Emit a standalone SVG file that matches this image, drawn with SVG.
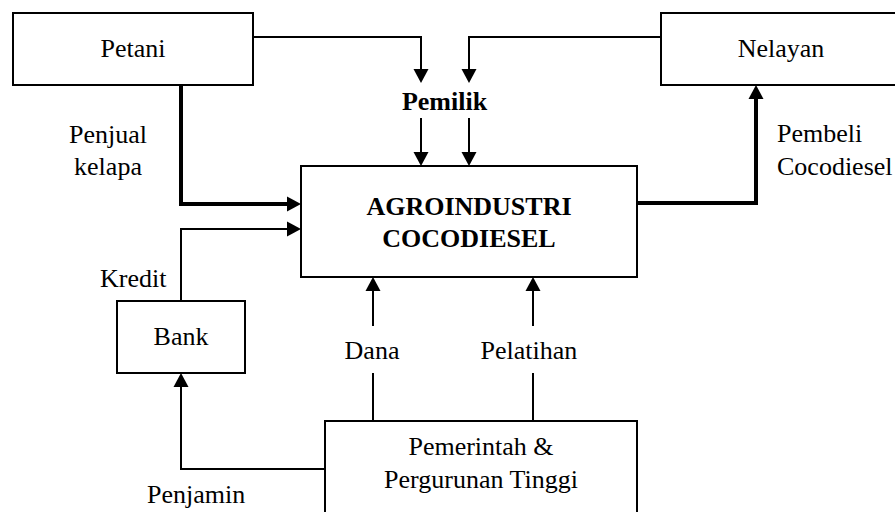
<svg xmlns="http://www.w3.org/2000/svg" width="895" height="512" viewBox="0 0 895 512">
<style>
.box{fill:#fff;stroke:#000;stroke-width:2}
.t{font-family:"Liberation Serif","Times New Roman",serif;font-size:26px;fill:#000;text-anchor:middle}
.s{text-anchor:start}
.b{font-weight:bold}
.c{fill:none;stroke:#000;stroke-width:2;stroke-linejoin:miter}
.k{stroke-width:4}
</style>
<defs>
<marker id="ah" markerUnits="userSpaceOnUse" markerWidth="15" markerHeight="16" refX="0" refY="7.5" orient="auto" viewBox="0 0 15 15">
<path d="M0,0 L14,7.5 L0,15 z" fill="#000"/>
</marker>
</defs>
<rect width="895" height="512" fill="#fff"/>
<g id="connectors">
<path class="c" d="M253,37 H421 V69" marker-end="url(#ah)"/>
<path class="c" d="M661,37 H469 V69" marker-end="url(#ah)"/>
<path class="c" d="M421,118 V152" marker-end="url(#ah)"/>
<path class="c" d="M469,118 V152" marker-end="url(#ah)"/>
<path class="c k" d="M181,85 V204 H287" marker-end="url(#ah)"/>
<path class="c" d="M181,301 V229 H287" marker-end="url(#ah)"/>
<path class="c k" d="M637,203 H756 V99" marker-end="url(#ah)"/>
<path class="c" d="M325,469 H181 V387" marker-end="url(#ah)"/>
<path class="c" d="M373,421 V373"/>
<path class="c" d="M373,326 V291" marker-end="url(#ah)"/>
<path class="c" d="M533,421 V373"/>
<path class="c" d="M533,326 V291" marker-end="url(#ah)"/>
<text class="t b" x="444.5" y="110">Pemilik</text>
<text class="t" x="108" y="143">Penjual</text>
<text class="t" x="108" y="175">kelapa</text>
<text class="t s" x="777" y="142">Pembeli</text>
<text class="t s" x="777" y="175">Cocodiesel</text>
<text class="t s" x="100" y="287">Kredit</text>
<text class="t" x="372" y="359">Dana</text>
<text class="t" x="529" y="359">Pelatihan</text>
<text class="t s" x="147" y="503">Penjamin</text>
</g>
<g id="petani">
<rect class="box" x="13" y="13" width="240" height="72"/>
<text class="t" x="133" y="57">Petani</text>
</g>
<g id="nelayan">
<rect class="box" x="661" y="13" width="245" height="72"/>
<text class="t" x="781" y="57">Nelayan</text>
</g>
<g id="agroindustri">
<rect class="box" x="301" y="166" width="336" height="111"/>
<text class="t b" x="469" y="215">AGROINDUSTRI</text>
<text class="t b" x="469" y="247">COCODIESEL</text>
</g>
<g id="bank">
<rect class="box" x="117" y="301" width="128" height="72"/>
<text class="t" x="181" y="345">Bank</text>
</g>
<g id="pemerintah">
<rect class="box" x="325" y="421" width="312" height="100"/>
<text class="t" x="481" y="455">Pemerintah &amp;</text>
<text class="t" x="481" y="488">Pergurunan Tinggi</text>
</g>
</svg>
